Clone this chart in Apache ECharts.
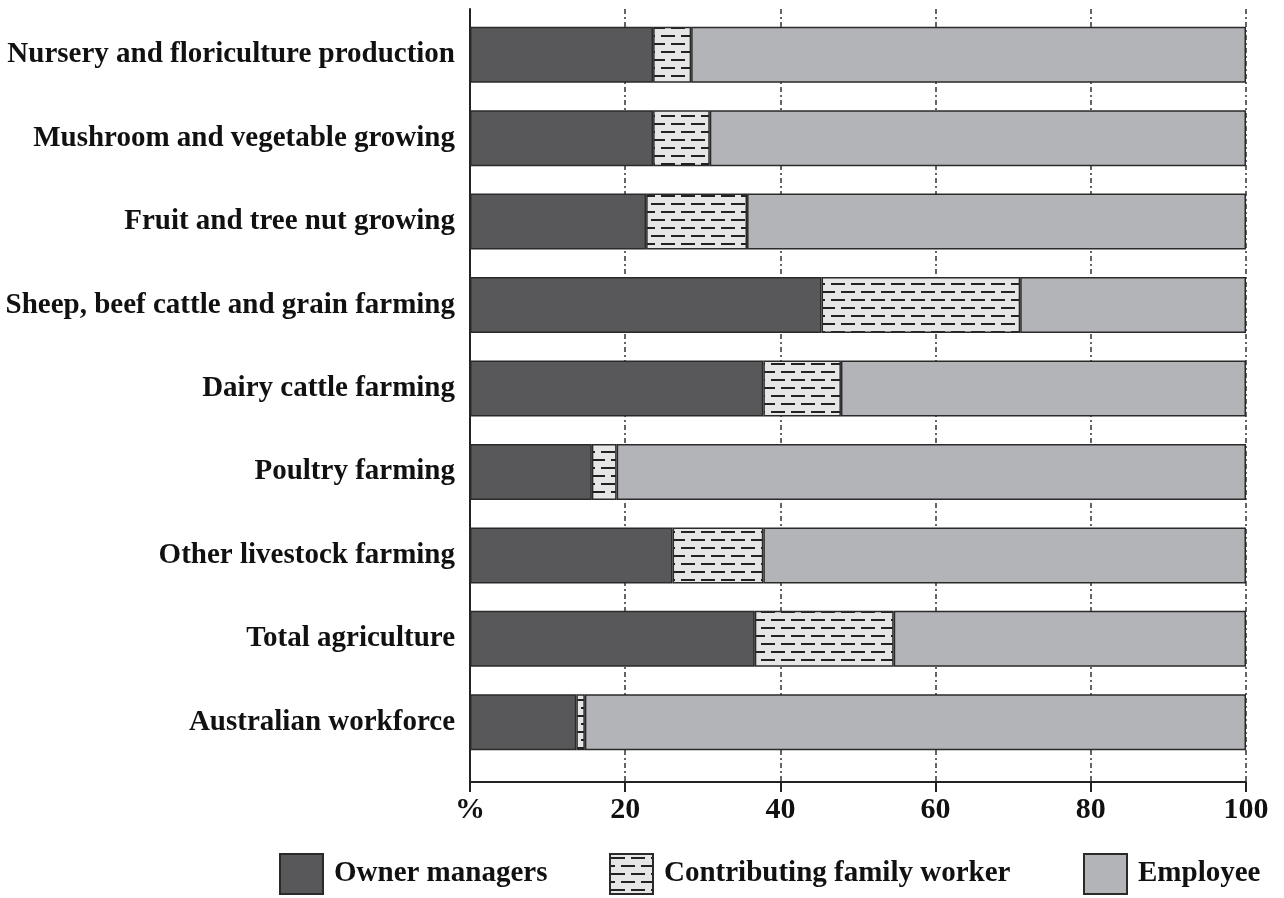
<!DOCTYPE html>
<html><head><meta charset="utf-8">
<script src="https://cdn.jsdelivr.net/npm/echarts@6/dist/echarts.min.js"></script>
<style>html,body{margin:0;padding:0;background:#fff}#c{width:1284px;height:898px}</style>
</head><body><div id="c"></div>
<script>
const categories = ["Nursery and floriculture production","Mushroom and vegetable growing","Fruit and tree nut growing","Sheep, beef cattle and grain farming","Dairy cattle farming","Poultry farming","Other livestock farming","Total agriculture","Australian workforce"];
const seriesNames = ["Owner managers","Contributing family worker","Employee"];
const owner = [23.6, 23.6, 22.7, 45.3, 37.8, 15.7, 26.1, 36.7, 13.7];
const family = [4.9, 7.3, 13.0, 25.6, 10.0, 3.2, 11.7, 17.9, 1.1];
const employee = [71.5, 69.1, 64.3, 29.1, 52.2, 81.1, 62.2, 45.4, 85.2];
const xTicks = [0, 20, 40, 60, 80, 100];

const FONT = '"Liberation Serif", "DejaVu Serif", serif';
// brick-dash pattern
const pc = document.createElement('canvas');
pc.width = 20; pc.height = 16;
const g = pc.getContext('2d');
g.fillStyle = '#e6e6e6'; g.fillRect(0,0,20,16);
g.fillStyle = '#222';
g.fillRect(1,3,14,2);
g.fillRect(11,11,9,2); g.fillRect(0,11,5,2);
const pattern = {image: pc, repeat: 'repeat'};

const chart = echarts.init(document.getElementById('c'), null, {renderer:'canvas'});
const border = {borderColor:'#2a2a2a', borderWidth:1.5};
const legendBase = {orient:'horizontal', top: 853, padding:0, itemWidth: 43, itemHeight: 40, icon:'rect',
  itemStyle:{borderColor:'#2a2a2a', borderWidth:2},
  textStyle:{fontFamily: FONT, fontWeight:'bold', fontSize: 29, color:'#111', padding:[0,0,0,6]}};
chart.setOption({
  animation:false,
  grid:[
    {left:470, right:38, top:13, bottom:134},
    {left:470, right:38, top:9, bottom:116}
  ],
  legend:[
    Object.assign({}, legendBase, {left: 279, data:[seriesNames[0]]}),
    Object.assign({}, legendBase, {left: 609, data:[seriesNames[1]]}),
    Object.assign({}, legendBase, {left: 1083, data:[seriesNames[2]]})
  ],
  xAxis:[
    {type:'value', gridIndex:0, min:0, max:100, show:false},
    {type:'value', gridIndex:1, min:0, max:100, interval:20,
     axisLine:{show:true, lineStyle:{color:'#222', width:2}},
     axisTick:{show:true, length:10, lineStyle:{color:'#222', width:2}},
     axisLabel:{margin:13, fontFamily:FONT, fontWeight:'bold', fontSize:30, color:'#111',
       formatter: v => v === xTicks[0] ? '%' : String(v)},
     splitLine:{show:true, lineStyle:{color:'#333', width:1.5, type:[5,3,2,3]}}}
  ],
  yAxis:[
    {type:'category', gridIndex:0, data:categories, inverse:true,
     axisLine:{show:false}, axisTick:{show:false},
     axisLabel:{margin:15, fontFamily:FONT, fontWeight:'bold', fontSize:29, color:'#111'}},
    {type:'value', gridIndex:1, min:0, max:1,
     axisLine:{show:true, lineStyle:{color:'#222', width:2}},
     axisTick:{show:false}, axisLabel:{show:false}, splitLine:{show:false}}
  ],
  series:[
    {name:seriesNames[0], type:'bar', stack:'a', xAxisIndex:0, yAxisIndex:0, barWidth:56, data:owner,
     itemStyle:Object.assign({color:'#58585a'}, border)},
    {name:seriesNames[1], type:'bar', stack:'a', xAxisIndex:0, yAxisIndex:0, barWidth:56, data:family,
     itemStyle:Object.assign({color:pattern}, border)},
    {name:seriesNames[2], type:'bar', stack:'a', xAxisIndex:0, yAxisIndex:0, barWidth:56, data:employee,
     itemStyle:Object.assign({color:'#b3b4b7'}, border)}
  ]
});
</script></body></html>
